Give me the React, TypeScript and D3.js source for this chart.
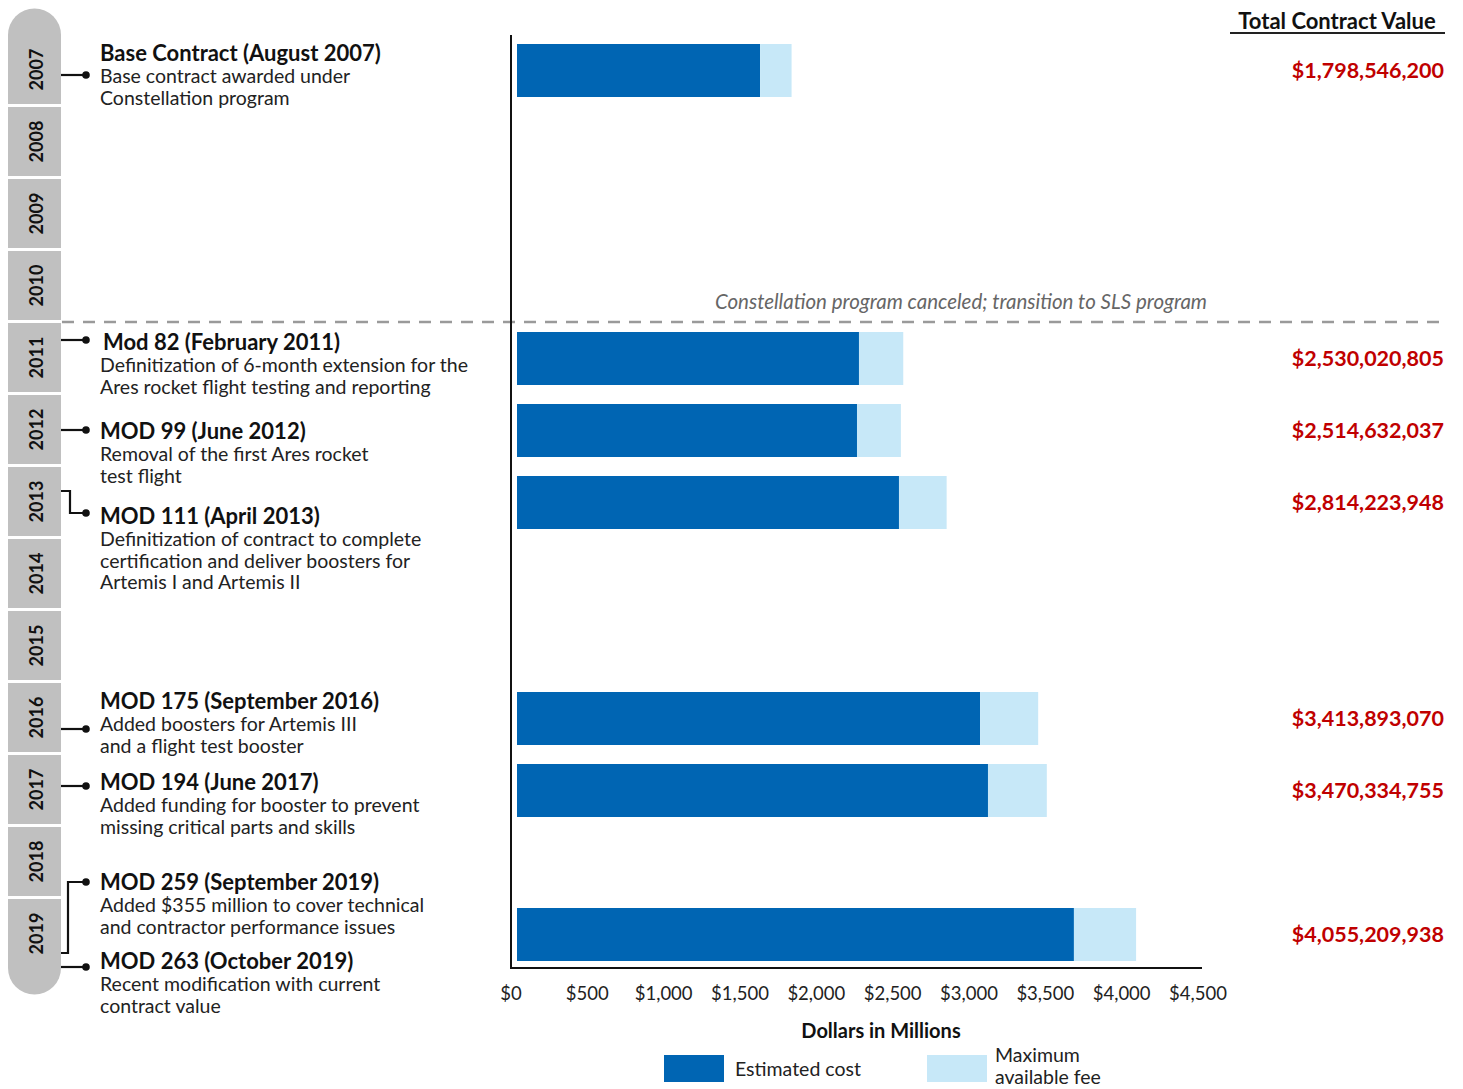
import React from "react";
import * as d3 from "d3";

const years = [2007, 2008, 2009, 2010, 2011, 2012, 2013, 2014, 2015, 2016, 2017, 2018, 2019];

// Bars (one per contract value shown)
const barYears = [2007, 2011, 2012, 2013, 2016, 2017, 2019];
const estimatedCost = [1592, 2240, 2227, 2502, 3033, 3085, 3648]; // $ millions
const totalValue = [1798.5462, 2530.020805, 2514.632037, 2814.223948, 3413.89307, 3470.334755, 4055.209938]; // $ millions
const totalLabels = [
  "$1,798,546,200",
  "$2,530,020,805",
  "$2,514,632,037",
  "$2,814,223,948",
  "$3,413,893,070",
  "$3,470,334,755",
  "$4,055,209,938",
];

const xTicks = [0, 500, 1000, 1500, 2000, 2500, 3000, 3500, 4000, 4500];

// Timeline events
const eventTitles = [
  "Base Contract (August 2007)",
  "Mod 82 (February 2011)",
  "MOD 99 (June 2012)",
  "MOD 111 (April 2013)",
  "MOD 175 (September 2016)",
  "MOD 194 (June 2017)",
  "MOD 259 (September 2019)",
  "MOD 263 (October 2019)",
];
const eventDescriptions = [
  ["Base contract awarded under", "Constellation program"],
  ["Definitization of 6-month extension for the", "Ares rocket flight testing and reporting"],
  ["Removal of the first Ares rocket", "test flight"],
  ["Definitization of contract to complete", "certification and deliver boosters for", "Artemis I and Artemis II"],
  ["Added boosters for Artemis III", "and a flight test booster"],
  ["Added funding for booster to prevent", "missing critical parts and skills"],
  ["Added $355 million to cover technical", "and contractor performance issues"],
  ["Recent modification with current", "contract value"],
];

// layout (pixel positions for annotation text & connectors)
const eventTitleY = [52, 341, 430, 515, 700, 781, 881, 960];
const connectorStartY = [75, 340, 430, 491, 729, 786, 953, 967];
const connectorEndY = [75, 340, 430, 513, 729, 786, 882, 967];
const connectorElbowX = [0, 0, 0, 70, 0, 0, 68, 0];
const eventTitleX = [100, 103, 100, 100, 100, 100, 100, 100];

const FONT = "Lato, 'Open Sans', sans-serif";
const DARK = "#0065b3";
const LIGHT = "#c7e8f8";
const RED = "#c00000";

export default function App() {
  const W = 1463;
  const H = 1089;
  const x = d3.scaleLinear().domain([0, 4500]).range([511, 1198]);
  const barOffset = 6;
  const yBand = d3
    .scaleBand<number>()
    .domain(years)
    .range([35, 968])
    .paddingInner(3 / 72)
    .paddingOuter(0);
  const barH = 53;
  const pillX = 8;
  const pillW = 53;
  const pillTop = 35 - pillW / 2;
  const pillBottom = 968 + pillW / 2;
  const fmt = d3.format(",");

  const lineLink = d3.line<[number, number]>();

  return (
    <svg
      width={W}
      height={H}
      style={{ position: "absolute", left: 0, top: 0, background: "#fff" }}
      fontFamily={FONT}
    >
      {/* year pill */}
      <rect x={pillX} y={pillTop} width={pillW} height={pillBottom - pillTop} rx={pillW / 2} fill="#c0c0c0" />
      {years.slice(0, -1).map((yr) => (
        <rect
          key={"gap" + yr}
          x={pillX - 1}
          y={(yBand(yr) as number) + yBand.bandwidth()}
          width={pillW + 2}
          height={3}
          fill="#fff"
        />
      ))}
      {years.map((yr) => {
        const cy = (yBand(yr) as number) + yBand.bandwidth() / 2;
        const cx = pillX + pillW / 2;
        return (
          <text
            key={"yr" + yr}
            transform={`translate(${cx + 1},${cy}) rotate(-90)`}
            textAnchor="middle"
            dominantBaseline="central"
            fontSize={18}
            fontWeight="bold"
            fill="#111"
          >
            {yr}
          </text>
        );
      })}

      {/* dashed separator */}
      <line x1={62} x2={1447} y1={322} y2={322} stroke="#9a9a9a" strokeWidth={2.5} strokeDasharray="12 9" />
      <text x={1207} y={301} textAnchor="end" dominantBaseline="central" fontSize={20.5} fontStyle="italic" fill="#666">
        Constellation program canceled; transition to SLS program
      </text>

      {/* connectors */}
      {eventTitles.map((t, i) => {
        const x0 = pillX + pillW;
        const pts: [number, number][] = connectorElbowX[i]
          ? [
              [x0, connectorStartY[i]],
              [connectorElbowX[i], connectorStartY[i]],
              [connectorElbowX[i], connectorEndY[i]],
              [86, connectorEndY[i]],
            ]
          : [
              [x0, connectorStartY[i]],
              [86, connectorEndY[i]],
            ];
        return (
          <g key={"c" + i}>
            <path d={lineLink(pts) || ""} fill="none" stroke="#111" strokeWidth={2.2} />
            <circle cx={86} cy={connectorEndY[i]} r={3.8} fill="#111" />
          </g>
        );
      })}

      {/* annotation texts */}
      {eventTitles.map((t, i) => (
        <g key={"t" + i}>
          <text x={eventTitleX[i]} y={eventTitleY[i]} dominantBaseline="central" fontSize={22} fontWeight="bold" fill="#111">
            {t}
          </text>
          {eventDescriptions[i].map((line, j) => (
            <text
              key={j}
              x={100}
              y={eventTitleY[i] + 23.5 + j * 21.5}
              dominantBaseline="central"
              fontSize={19.5}
              fill="#222"
            >
              {line}
            </text>
          ))}
        </g>
      ))}

      {/* bars */}
      {barYears.map((yr, i) => {
        const cy = (yBand(yr) as number) + yBand.bandwidth() / 2 + 1;
        const y0 = cy - barH / 2;
        const x0 = x(0) + barOffset;
        return (
          <g key={"b" + i}>
            <rect x={x0} y={y0} width={x(estimatedCost[i]) - x(0)} height={barH} fill={DARK} />
            <rect
              x={x(estimatedCost[i]) + barOffset}
              y={y0}
              width={x(totalValue[i]) - x(estimatedCost[i])}
              height={barH}
              fill={LIGHT}
            />
            <text
              x={1444}
              y={cy - 1}
              textAnchor="end"
              dominantBaseline="central"
              fontSize={21.5}
              fontWeight="bold"
              fill={RED}
            >
              {totalLabels[i]}
            </text>
          </g>
        );
      })}

      {/* axes */}
      <line x1={511} x2={511} y1={35} y2={969} stroke="#111" strokeWidth={2} />
      <line x1={510} x2={1202} y1={968} y2={968} stroke="#111" strokeWidth={2} />
      {xTicks.map((v) => (
        <text key={"tick" + v} x={x(v)} y={993} textAnchor="middle" dominantBaseline="central" fontSize={18.5} fill="#222">
          {"$" + fmt(v)}
        </text>
      ))}
      <text x={881} y={1030} textAnchor="middle" dominantBaseline="central" fontSize={20} fontWeight="bold" fill="#111">
        Dollars in Millions
      </text>

      {/* header */}
      <text x={1337} y={20} textAnchor="middle" dominantBaseline="central" fontSize={22} fontWeight="bold" fill="#111">
        Total Contract Value
      </text>
      <line x1={1230} x2={1445} y1={33} y2={33} stroke="#222" strokeWidth={2} />

      {/* legend */}
      <rect x={664} y={1055} width={60} height={27} fill={DARK} />
      <text x={735} y={1068} dominantBaseline="central" fontSize={19.5} fill="#222">
        Estimated cost
      </text>
      <rect x={927} y={1055} width={60} height={27} fill={LIGHT} />
      <text x={995} y={1054} dominantBaseline="central" fontSize={19.5} fill="#222">
        Maximum
      </text>
      <text x={995} y={1076} dominantBaseline="central" fontSize={19.5} fill="#222">
        available fee
      </text>
    </svg>
  );
}
